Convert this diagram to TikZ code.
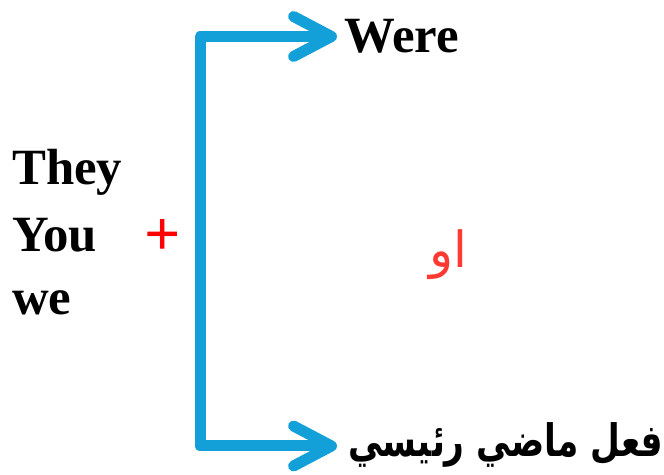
\documentclass[tikz,border=0pt]{standalone}
\usepackage{fontspec}
\setmainfont{Liberation Serif}
\newfontfamily\arabicfont[Script=Arabic]{DejaVu Sans}
\TeXXeTstate=1
\usetikzlibrary{arrows.meta,positioning}
\definecolor{brkc}{HTML}{13A0D8}
\definecolor{orc}{HTML}{FF3A33}
\tikzset{
  brk/.style={-{Straight Barb[length=38bp,width=40bp,round]},line width=11bp,brkc,line join=round},
  wd/.style={font=\bfseries\fontsize{51}{60}\selectfont,inner sep=0pt},
  ar/.style={font=\arabicfont\bfseries\fontsize{34.5}{40}\selectfont,inner sep=0pt}
}

\begin{document}
\begin{tikzpicture}[x=1bp,y=1bp]
\useasboundingbox (0,0) rectangle (664,475);
% subjects
\node[wd,anchor=base west] (they) at (12,290) {They};
\node[wd,anchor=base west] (you) at (12,223) {You};
\node[wd,anchor=base west] (we) at (12,160) {we};
\node[font=\bfseries\fontsize{64}{64}\selectfont,text=red,inner sep=0pt] (plus) at (163,238) {+};
% the two choices
\node[wd,anchor=west] (were) at (344,438.5) {Were};
\node[ar,anchor=west] (fail) at (348,30) {\scalebox{1}[1.3]{\beginR فعل ماضي رئيسي\endR}};
\node[font=\arabicfont\fontsize{50}{50}\selectfont,text=orc,inner sep=0pt] (aw) at (448,220) {\beginR او\endR};
\coordinate (spine) at (200,238);
\draw[brk] (spine) |- ([xshift=-7bp]were.west);
\draw[brk] (spine) |- ([xshift=-11bp]fail.west |- 0,29);
\end{tikzpicture}
\end{document}
